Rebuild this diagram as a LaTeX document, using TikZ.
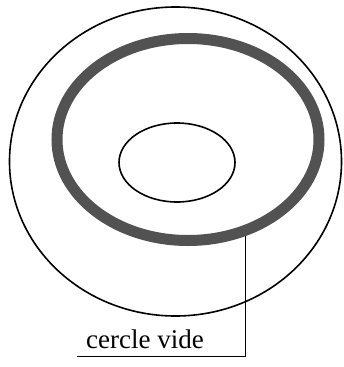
\documentclass[tikz,border=0pt]{standalone}
\usepackage{fontspec}
\setmainfont{Liberation Serif}
\begin{document}
\begin{tikzpicture}[x=1pt,y=-1pt,
  thinline/.style={draw=black,line width=1.6pt},
  ringline/.style={draw=black!68,line width=11pt},
  leader/.style={draw=black,line width=1pt},
  lbl/.style={font=\fontsize{27}{30}\selectfont,inner sep=0pt,anchor=base west}]
\useasboundingbox (0,0) rectangle (343,367);
% outer ellipse
\draw[thinline] (175.5,161.5) ellipse [x radius=166, y radius=154.5];
% grey ring
\draw[ringline] (188,139.5) ellipse [x radius=131, y radius=101];
% inner ellipse
\draw[thinline] (177,162.5) ellipse [x radius=58, y radius=39.5];
% label and leader
\node[lbl] (label) at (86,348) {cercle vide};
\coordinate (ringpt) at (245.7,236);
\coordinate (corner) at (245.7,356);
\coordinate (lineend) at (77,356);
\draw[leader] (ringpt) -- (corner) -- (lineend);
\end{tikzpicture}
\end{document}
